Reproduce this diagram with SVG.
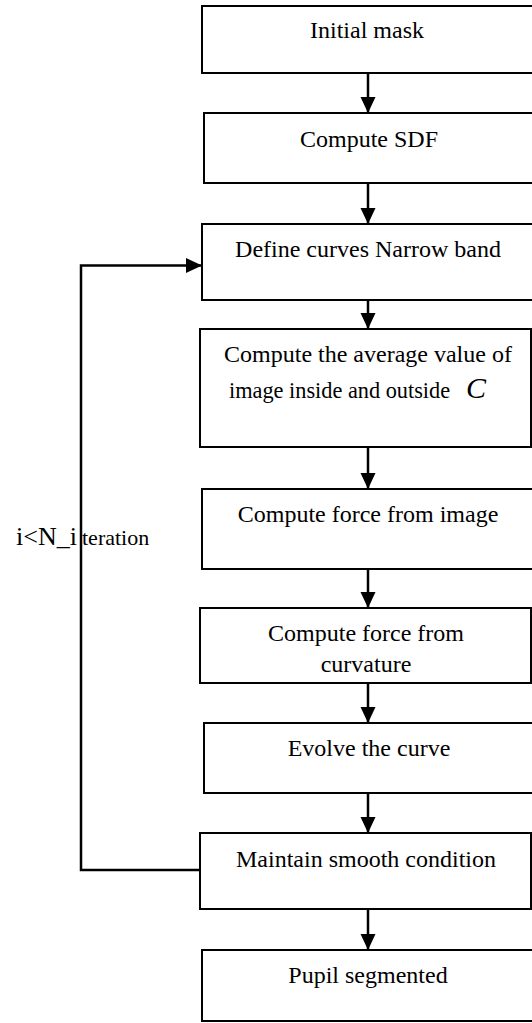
<svg xmlns="http://www.w3.org/2000/svg" width="532" height="1023" viewBox="0 0 532 1023">
  <defs>
    <style>
      .box { fill: #ffffff; stroke: #000000; stroke-width: 2; }
      .lbl { font-family: "Liberation Serif", "Times New Roman", serif; font-size: 24px; fill: #000000; text-anchor: middle; }
      .plain { font-family: "Liberation Serif", "Times New Roman", serif; font-size: 22.3px; fill: #000000; }
      .math { font-family: "Liberation Serif", "Times New Roman", serif; font-style: italic; font-size: 30px; fill: #000000; }
      .link { fill: none; stroke: #000000; stroke-width: 2.5; marker-end: url(#head); }
    </style>
    <marker id="head" markerUnits="userSpaceOnUse" markerWidth="16" markerHeight="16" refX="16" refY="7.5" orient="auto">
      <path d="M0,0 L16,7.5 L0,15 Z" fill="#000000"/>
    </marker>
  </defs>
  <rect width="532" height="1023" fill="#ffffff"/>

  <!-- connectors -->
  <g id="connectors">
    <line class="link" x1="368" y1="73" x2="368" y2="113"/>
    <line class="link" x1="368" y1="183" x2="368" y2="224"/>
    <line class="link" x1="368" y1="300" x2="368" y2="329"/>
    <line class="link" x1="368" y1="447" x2="368" y2="489"/>
    <line class="link" x1="368" y1="569" x2="368" y2="608"/>
    <line class="link" x1="368" y1="683" x2="368" y2="723"/>
    <line class="link" x1="368" y1="793" x2="368" y2="833"/>
    <line class="link" x1="368" y1="909" x2="368" y2="950"/>
    <!-- iteration loop back to the narrow band step -->
    <polyline class="link" points="200,870 81,870 81,265.5 202,265.5"/>
    <text class="plain" y="545"><tspan x="16" style="font-size:26px">i&lt;N_i</tspan><tspan x="82" style="font-size:22px">teration</tspan></text>
  </g>

  <g id="initial-mask">
    <rect class="box" x="202" y="6" width="332" height="67"/>
    <text class="lbl" x="367" y="38">Initial mask</text>
  </g>
  <g id="compute-sdf">
    <rect class="box" x="204" y="113" width="330" height="70"/>
    <text class="lbl" x="369" y="147">Compute SDF</text>
  </g>
  <g id="narrow-band">
    <rect class="box" x="202" y="224" width="332" height="76"/>
    <text class="lbl" x="368" y="257">Define curves Narrow band</text>
  </g>
  <g id="average-value">
    <rect class="box" x="200" y="329" width="331" height="118"/>
    <text class="lbl" x="368" y="362">Compute the average value of</text>
    <text class="plain" x="229" y="398">image inside and outside</text>
    <text class="math" x="466" y="398">C</text>
  </g>
  <g id="force-image">
    <rect class="box" x="202" y="489" width="332" height="80"/>
    <text class="lbl" x="368" y="522">Compute force from image</text>
  </g>
  <g id="force-curvature">
    <rect class="box" x="200" y="608" width="331" height="75"/>
    <text class="lbl" x="366" y="641">Compute force from</text>
    <text class="lbl" x="366" y="672">curvature</text>
  </g>
  <g id="evolve">
    <rect class="box" x="204" y="723" width="330" height="70"/>
    <text class="lbl" x="369" y="756">Evolve the curve</text>
  </g>
  <g id="smooth">
    <rect class="box" x="200" y="833" width="331" height="76"/>
    <text class="lbl" x="366" y="867">Maintain smooth condition</text>
  </g>
  <g id="segmented">
    <rect class="box" x="202" y="950" width="332" height="71"/>
    <text class="lbl" x="368" y="983">Pupil segmented</text>
  </g>
</svg>
